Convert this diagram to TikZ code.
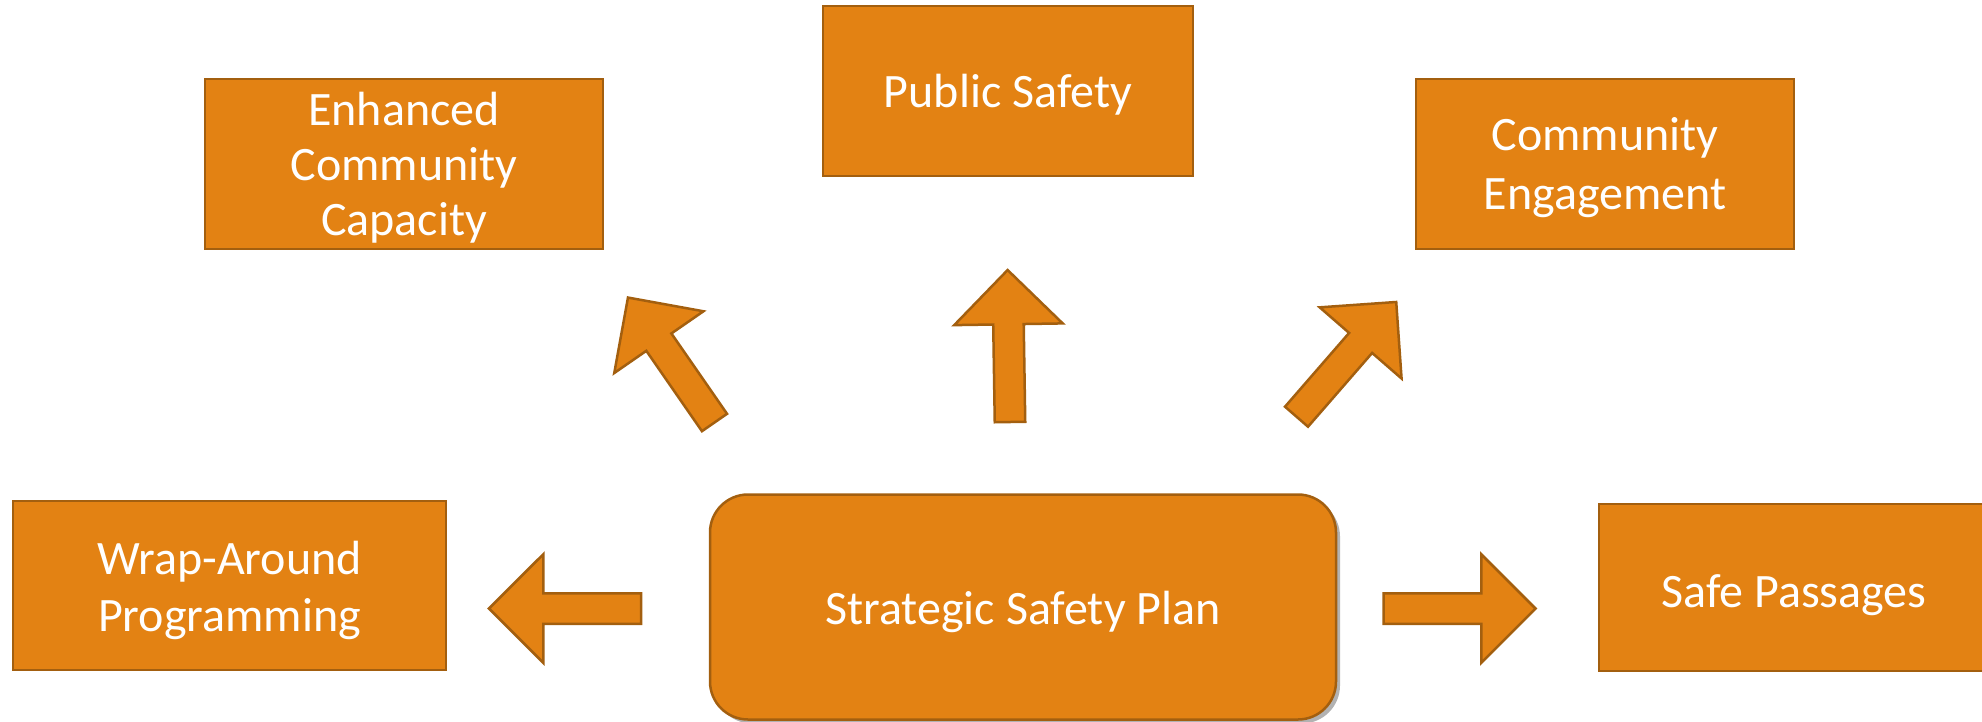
\documentclass[tikz,border=0pt]{standalone}
\usepackage{fontspec}
\setmainfont{Carlito}
\usetikzlibrary{shapes.arrows,shadows}
\definecolor{boxfill}{HTML}{E38213}
\definecolor{boxline}{HTML}{A35F0F}
\begin{document}
\begin{tikzpicture}[x=1pt,y=-1pt,
  box/.style={draw=boxline,fill=boxfill,line width=2.5pt,inner sep=0pt,outer sep=0pt},
  txt/.style={text=white,align=center,inner sep=0pt,font=\fontsize{48}{57}\selectfont},
  blockarrow/.style={single arrow,draw=boxline,fill=boxfill,line width=2.5pt,
    inner sep=0pt,inner ysep=14pt,outer sep=0pt,single arrow head extend=39pt,
    single arrow tip angle=90,single arrow head indent=0pt,minimum height=152pt}]
\useasboundingbox (0,0) rectangle (1982,721);
% boxes
\node[box,minimum width=398pt,minimum height=170pt] (ecc) at (404,164) {};
\node[box,minimum width=370pt,minimum height=170pt] (ps) at (1008,91) {};
\node[box,minimum width=378pt,minimum height=170pt] (ce) at (1605,164) {};
\node[box,minimum width=433pt,minimum height=169pt] (wap) at (229.5,585.5) {};
\node[box,minimum width=390pt,minimum height=167pt] (sp) at (1794,587.5) {};
\node[box,rounded corners=38pt,minimum width=626pt,minimum height=225pt,
  drop shadow={shadow xshift=4pt,shadow yshift=-4pt,fill=black,opacity=0.3}] (ssp) at (1023,607) {};
% texts
\node[txt,font=\fontsize{48}{55}\selectfont] (eccT) at ([yshift=-4pt]ecc.center) {Enhanced\\Community\\Capacity};
\node[txt] (psT) at ([yshift=-4pt]ps.center) {Public Safety};
\node[txt,font=\fontsize{48}{59}\selectfont] (ceT) at ([yshift=-4pt]ce.center) {Community\\Engagement};
\node[txt] (wapT) at ([yshift=-5pt]wap.center) {Wrap-Around\\Programming};
\node[txt] (spT) at ([yshift=-8pt]sp.center) {Safe Passages};
\node[txt] (sspT) at ([yshift=-5pt]ssp.center) {Strategic Safety Plan};
% arrows
\node[blockarrow,anchor=tail,rotate=180] (aw) at (641,608.5) {};
\node[blockarrow,anchor=tail,rotate=0] (ae) at (1383.5,608.5) {};
\node[blockarrow,anchor=tail,rotate=90.9] (an) at (1010,422) {};
\node[blockarrow,anchor=tail,rotate=124.7] (anw) at (714.5,422.5) {};
\node[blockarrow,anchor=tail,rotate=49] (ane) at (1296.5,416.7) {};
\end{tikzpicture}
\end{document}
